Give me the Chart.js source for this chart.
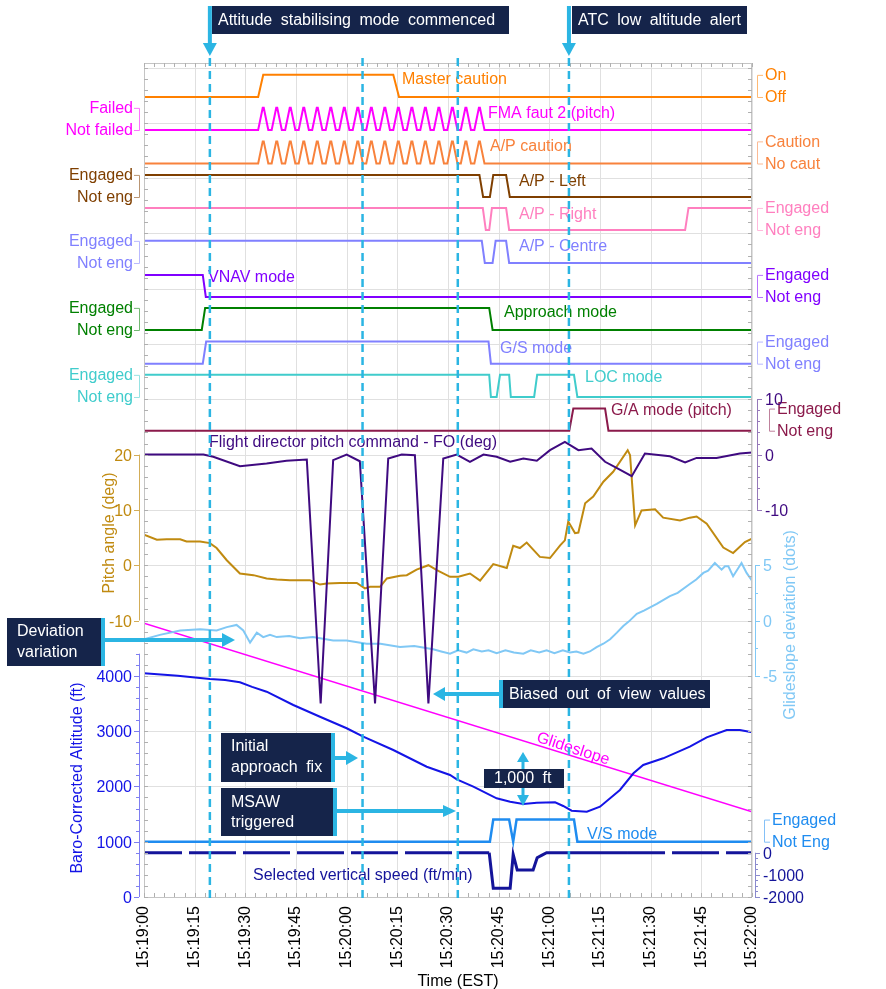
<!DOCTYPE html>
<html><head><meta charset="utf-8">
<script src="https://cdn.jsdelivr.net/npm/chart.js@4/dist/chart.umd.min.js"></script>
<style>html,body{margin:0;padding:0;background:#fff;}canvas{display:block;}</style>
</head><body>
<canvas id="c" width="886" height="989"></canvas>
<script>
// ================= DATA (time in seconds after 15:19:00) =================
const timeTicks = [0,15,30,45,60,75,90,105,120,135,150,165,180];
const timeLabels = ['15:19:00','15:19:15','15:19:30','15:19:45','15:20:00','15:20:15','15:20:30','15:20:45','15:21:00','15:21:15','15:21:30','15:21:45','15:22:00'];

const pitchTicks = [20,10,0,-10];
const altTicks = [0,1000,2000,3000,4000];
const fdTicks = [10,0,-10];
const gsDevTicks = [5,0,-5];
const vsSelTicks = [0,-1000,-2000];

// discrete states (1 = on / engaged / failed, 0 = off)
const masterCaution = [[0,0],[33.8,0],[35.3,1],[73.8,1],[75.5,0],[180,0]];
const fmaPulseT = [0,33.8,35.15,35.45,36.8,37.8,39.15,39.45,40.8,41.8,43.15,43.45,44.8,45.8,47.15,47.45,48.8,49.8,51.15,51.45,52.8,53.8,55.15,55.45,56.8,57.8,59.15,59.45,60.8,61.8,63.15,63.45,64.8,65.8,67.15,67.45,68.8,69.8,71.15,71.45,72.8,73.8,75.15,75.45,76.8,77.8,79.15,79.45,80.8,81.8,83.15,83.45,84.8,85.8,87.15,87.45,88.8,89.8,91.15,91.45,92.8,93.8,95.15,95.45,96.8,97.8,99.15,99.45,100.8,180];
const fmaPulseV = [0,0,1,1,0,0,1,1,0,0,1,1,0,0,1,1,0,0,1,1,0,0,1,1,0,0,1,1,0,0,1,1,0,0,1,1,0,0,1,1,0,0,1,1,0,0,1,1,0,0,1,1,0,0,1,1,0,0,1,1,0,0,1,1,0,0,1,1,0,0];
const apCautionT = fmaPulseT;   // A/P caution pulses coincide with FMA fault pulses
const apCautionV = fmaPulseV;
const apLeft   = [[0,1],[99.3,1],[100.4,0],[102.4,0],[103.4,1],[107.2,1],[108.3,0],[180,0]];
const apRight  = [[0,1],[100.3,1],[101.2,0],[102.2,0],[103.0,1],[107.2,1],[108.1,0],[160.2,0],[161.2,1],[180,1]];
const apCentre = [[0,1],[100.0,1],[100.9,0],[103.2,0],[104.1,1],[107.2,1],[108.1,0],[180,0]];
const vnavMode = [[0,1],[17.4,1],[18.3,0],[180,0]];
const approachMode = [[0,0],[17.1,0],[18.1,1],[102.2,1],[103.2,0],[180,0]];
const gsMode  = [[0,0],[17.4,0],[18.4,1],[102.0,1],[102.7,0],[180,0]];
const locMode = [[0,1],[102.2,1],[102.7,0],[104.4,0],[105.4,1],[108.1,1],[108.6,0],[115.5,0],[116.4,1],[127.3,1],[128.3,0],[180,0]];
const gaMode  = [[0,0],[125.9,0],[127.1,1],[136.5,1],[137.5,0],[180,0]];
const vsMode  = [[0,0],[102.4,0],[103.4,1],[108.1,1],[109.3,0],[110.3,1],[127.3,1],[128.3,0],[180,0]];

// Flight director pitch command (deg)
const fdPitch = [[0,0],[17.6,0],[20.5,-0.4],[28.4,-2.1],[36.3,-1.6],[42.2,-1.1],[48.2,-0.9],[52.3,-45],[56.0,-1.0],[60.0,0],[63.9,-1.2],[68.4,-45],[72.3,-0.7],[76.3,0],[80.2,-0.1],[84.2,-45],[88.6,-0.7],[92.6,0],[96.5,-1.3],[100.5,0],[104.4,-0.4],[108.4,-1.3],[112.3,-0.7],[116.3,-1.1],[120.2,0.8],[124.6,2.3],[128.6,0.8],[132.5,1.1],[136.5,-1.3],[139.9,-2.4],[144.4,-3.9],[148.3,0.2],[155.7,-0.3],[160.2,-1.4],[163.6,-0.6],[169.5,-0.6],[176.4,0.2],[180,0.4]];
// Pitch angle (deg)
const pitchAngle = [[0,5.5],[3.8,4.6],[6.7,4.7],[10.7,4.7],[12.6,4.3],[16.6,4.3],[19.5,4.0],[21.5,3.1],[24.5,0.9],[28.4,-1.5],[32.4,-1.8],[36.3,-2.4],[39.3,-2.6],[43.2,-2.7],[49.1,-2.7],[52.1,-3.5],[54.1,-3.3],[58.0,-3.2],[63.0,-3.2],[65.4,-4.2],[66.9,-3.9],[69.9,-3.9],[71.9,-2.4],[75.8,-1.9],[77.8,-1.8],[80.7,-0.8],[84.2,0.0],[86.7,-0.9],[90.6,-2.1],[93.1,-2.1],[96.5,-1.5],[99.5,-2.8],[103.4,0.2],[107.4,-0.5],[109.3,3.5],[111.3,3.1],[113.3,4.1],[117.2,1.5],[120.2,1.3],[123.2,3.6],[124.6,4.5],[125.6,7.9],[127.6,5.8],[128.6,5.9],[130.6,11.2],[133.0,12.4],[136.0,15.1],[138.9,16.9],[143.2,20.8],[143.9,19.9],[145.4,7.2],[147.3,9.9],[151.3,10.1],[153.7,8.6],[158.7,8.1],[161.6,8.6],[163.6,8.8],[166.6,7.5],[171.5,3.2],[174.4,2.2],[177.9,4.2],[180,4.8]];
// Glideslope deviation (dots)
const gsDeviation = [[0,-1.7],[4.7,-1.3],[10.7,-0.9],[16.6,-0.8],[21.5,-0.9],[24.5,-0.6],[27.4,-0.4],[29.4,-0.9],[31.4,-2.0],[33.4,-1.1],[35.3,-1.5],[37.3,-1.3],[39.3,-1.5],[43,-1.4],[46.2,-1.6],[50,-1.5],[56.0,-1.8],[60,-1.8],[65.9,-2.1],[70,-2.1],[75.8,-2.4],[80,-2.3],[85.6,-2.6],[88,-2.8],[90.6,-3.0],[93,-2.7],[95.5,-2.9],[97.5,-2.6],[100,-2.8],[102,-2.7],[104.4,-2.95],[107,-2.7],[109.5,-2.9],[112.3,-3.0],[114.5,-2.7],[117,-2.9],[119.2,-2.7],[121.5,-2.95],[124,-2.7],[126.1,-2.9],[128,-2.8],[130.1,-3.0],[132,-2.8],[134.0,-2.4],[136,-2.1],[138.0,-1.7],[140,-1.1],[141.9,-0.5],[143.5,-0.1],[145.9,0.6],[148,0.9],[151.8,1.5],[155.7,2.2],[158,2.5],[161.6,3.3],[163.5,3.7],[165.6,4.3],[167,4.5],[169.0,5.2],[171.0,4.6],[172,4.9],[173.0,4.9],[174.4,4.0],[176.9,5.2],[178.4,4.3],[180,3.6]];
// Baro-corrected altitude (ft)
const altitude = [[0,4045],[10,4000],[19.5,3942],[24,3925],[28.4,3882],[32,3800],[36.3,3712],[44.2,3472],[52.1,3260],[60.0,3051],[64.9,2899],[73.8,2658],[83.7,2356],[90.6,2206],[92.6,2128],[97.5,1995],[104.4,1785],[108.4,1724],[112.3,1682],[116.3,1705],[121.7,1712],[124.1,1646],[126.6,1561],[131.1,1543],[135.0,1633],[140.9,1935],[144.9,2237],[147.8,2387],[153.7,2508],[161.6,2718],[166.6,2888],[172.5,3020],[176.4,3020],[180,2978]];
// Glideslope reference (ft)
const glideslope = [[0,4950],[180,1540]];
// Selected vertical speed (ft/min)
const selectedVS = [[0,0],[102.2,0],[103.4,-1600],[108.4,-1600],[109.3,-80],[110.5,-780],[115.2,-780],[116.4,-225],[117.7,-120],[119.2,0],[143,0],[180,0]];

// event marker times (s)
const markerTimes = [19.5, 64.7, 92.9, 125.8];

// ================= LAYOUT / STYLE =================
const AREA = {left:144, top:63, right:752, bottom:897};
const GRID_PX = 55.3;
const GRID_TOP = (AREA.bottom - AREA.top) / GRID_PX;
const FONT = '"Liberation Sans", Arial, Helvetica, sans-serif';
const C = {
  master:'#ff8000', fma:'#ff00ff', apCaution:'#f8823c', apLeft:'#7f3f00', apRight:'#ff7fbf',
  apCentre:'#8080ff', vnav:'#8000ff', approach:'#008000', gs:'#8080ff', loc:'#40cccc',
  ga:'#8b1a4b', fd:'#3f0a80', pitch:'#c08a10', gsDev:'#80c8f5', alt:'#1414e6',
  glideslope:'#ff00ff', vsMode:'#1f8cf0', vsSel:'#14149a', cyan:'#2bb5e3', navy:'#15244a'
};
// lane base positions in grid units (value 0 of each discrete trace); 1 unit = 0.4 grid
const LANE = {master:14.467, fma:13.870, apCaution:13.264, apLeft:12.658, apRight:12.061, apCentre:11.465,
  vnav:10.850, approach:10.253, gs:9.644, loc:9.042, ga:8.432, vsMode:1.0};

function rng(zeroG, perG){ return {min:-zeroG*perG, max:(GRID_TOP-zeroG)*perG}; }
const scales = { x:{type:'linear', min:0, max:180, display:false} };
function addY(id, zeroG, perG){ scales[id] = Object.assign({type:'linear', display:false}, rng(zeroG, perG)); }
addY('alt', 0, 1000);
addY('pitch', 6, 10);
addY('fd', 8, 10);
addY('gsd', 5, 5);
addY('vss', 0.8, 2500);
for (const k in LANE) addY('d_'+k, LANE[k], 2.5);

const pts = arr => arr.map(p => ({x:p[0], y:p[1]}));
const ptsTV = (t,v) => t.map((x,i) => ({x, y:v[i]}));
function ds(label, data, axis, color, w, extra){
  return Object.assign({label, data, yAxisID:axis, borderColor:color, borderWidth:w, pointRadius:0, tension:0, fill:false}, extra||{});
}
const datasets = [
  ds('FD pitch', pts(fdPitch), 'fd', C.fd, 2),
  ds('Pitch', pts(pitchAngle), 'pitch', C.pitch, 2),
  ds('GS dev', pts(gsDeviation), 'gsd', C.gsDev, 2),
  ds('Altitude', pts(altitude), 'alt', C.alt, 2),
  ds('Glideslope', pts(glideslope), 'alt', C.glideslope, 1.6),
  ds('Master caution', pts(masterCaution), 'd_master', C.master, 2),
  ds('FMA', ptsTV(fmaPulseT, fmaPulseV), 'd_fma', C.fma, 2),
  ds('AP caution', ptsTV(apCautionT, apCautionV), 'd_apCaution', C.apCaution, 2),
  ds('AP left', pts(apLeft), 'd_apLeft', C.apLeft, 2),
  ds('AP right', pts(apRight), 'd_apRight', C.apRight, 2),
  ds('AP centre', pts(apCentre), 'd_apCentre', C.apCentre, 2),
  ds('VNAV', pts(vnavMode), 'd_vnav', C.vnav, 2),
  ds('Approach', pts(approachMode), 'd_approach', C.approach, 2),
  ds('GS mode', pts(gsMode), 'd_gs', C.gs, 2),
  ds('LOC', pts(locMode), 'd_loc', C.loc, 2),
  ds('GA', pts(gaMode), 'd_ga', C.ga, 2),
  ds('VS mode', pts(vsMode), 'd_vsMode', C.vsMode, 2.5),
  ds('Selected VS', pts(selectedVS), 'vss', C.vsSel, 3, {
    borderDashOffset: 9,
    segment:{ borderDash: c => (c.p0.parsed.x < 102 || c.p0.parsed.x >= 142.9) ? [47,7] : [] }
  }),
];

// ================= DRAW HELPERS =================
function line(ctx,x1,y1,x2,y2){ ctx.beginPath(); ctx.moveTo(x1,y1); ctx.lineTo(x2,y2); ctx.stroke(); }
function text(ctx,s,x,y,color,align,size,bold){
  ctx.font = (bold?'bold ':'') + (size||16) + 'px ' + FONT;
  ctx.fillStyle = color; ctx.textAlign = align||'left'; ctx.textBaseline = 'middle';
  ctx.fillText(s,x,y);
}
function lighten(hex, f){
  const n = parseInt(hex.slice(1),16); let r=n>>16,g=(n>>8)&255,b=n&255;
  r=Math.round(r+(255-r)*f); g=Math.round(g+(255-g)*f); b=Math.round(b+(255-b)*f);
  return 'rgb('+r+','+g+','+b+')';
}
function bracket(ctx, chart, axis, hi, lo, color, side, xLine, xText){
  const S = chart.scales[axis];
  const y1 = S.getPixelForValue(1), y0 = S.getPixelForValue(0);
  ctx.strokeStyle = lighten(color, 0.45); ctx.lineWidth = 1;
  const d = side==='left' ? -5 : 6;
  ctx.beginPath(); ctx.moveTo(xLine+d, y1+0.5); ctx.lineTo(xLine+0.5, y1+0.5); ctx.lineTo(xLine+0.5, y0+0.5); ctx.lineTo(xLine+d, y0+0.5); ctx.stroke();
  text(ctx, hi, xText, y1+1, color, side==='left'?'right':'left');
  text(ctx, lo, xText, y0+1, color, side==='left'?'right':'left');
}
function numAxis(ctx, chart, axis, ticks, from, to, minorStep, color, lineColor, side, xLine, xText){
  const S = chart.scales[axis];
  ctx.strokeStyle = lineColor; ctx.lineWidth = 1;
  const ya = S.getPixelForValue(from), yb = S.getPixelForValue(to);
  line(ctx, xLine+0.5, ya, xLine+0.5, yb);
  const dir = side==='left' ? -1 : 1;
  if (minorStep) for (let v=Math.min(from,to); v<=Math.max(from,to)+1e-6; v+=minorStep){
    const y = Math.round(S.getPixelForValue(v))+0.5; line(ctx, xLine, y, xLine+dir*3, y);
  }
  for (const v of ticks){
    const y = Math.round(S.getPixelForValue(v))+0.5;
    line(ctx, xLine, y, xLine+dir*5, y);
    text(ctx, String(v), xText, y+1, color, side==='left'?'right':'left');
  }
}
function box(ctx,x,y,w,h){ ctx.fillStyle = C.navy; ctx.fillRect(x,y,w,h); }
function cyanRect(ctx,x,y,w,h){ ctx.fillStyle = C.cyan; ctx.fillRect(x,y,w,h); }
function tri(ctx,a,b,c){ ctx.fillStyle = C.cyan; ctx.beginPath(); ctx.moveTo(a[0],a[1]); ctx.lineTo(b[0],b[1]); ctx.lineTo(c[0],c[1]); ctx.closePath(); ctx.fill(); }
function wtext(ctx,s,x,y){
  ctx.font = '16px ' + FONT; ctx.fillStyle = '#ffffff'; ctx.textAlign='left'; ctx.textBaseline='middle';
  try { ctx.wordSpacing = '4px'; } catch(e){}
  ctx.fillText(s,x,y);
  try { ctx.wordSpacing = '0px'; } catch(e){}
}

const deco = {
  id:'deco',
  beforeDatasetsDraw(chart){
    const ctx = chart.ctx, a = chart.chartArea, X = chart.scales.x, Y = chart.scales.alt;
    ctx.save();
    ctx.strokeStyle = '#e0e0e0'; ctx.lineWidth = 1;
    for (const s of timeTicks){ const x = Math.round(X.getPixelForValue(s))+0.5; line(ctx,x,a.top,x,a.bottom); }
    for (let v=1000; v<=15000; v+=1000){ const y = Math.round(Y.getPixelForValue(v))+0.5; line(ctx,a.left,y,a.right,y); }
    ctx.restore();
  },
  afterDatasetsDraw(chart){
    const ctx = chart.ctx, a = chart.chartArea, X = chart.scales.x, Y = chart.scales.alt;
    ctx.save();
    // frame + minor ticks
    ctx.strokeStyle = '#c4c4c4'; ctx.lineWidth = 1;
    ctx.strokeRect(a.left+0.5, a.top+0.5, a.right-a.left-1, a.bottom-a.top);
    ctx.strokeStyle = '#b0b0b0';
    for (let s=0; s<=180; s+=3){ const x = Math.round(X.getPixelForValue(s))+0.5; line(ctx,x,a.top,x,a.top+4); line(ctx,x,a.bottom,x,a.bottom-4); }
    for (let v=0; v<=15000; v+=200){ const y = Math.round(Y.getPixelForValue(v))+0.5; line(ctx,a.left,y,a.left+4,y); line(ctx,a.right,y,a.right-4,y); }

    // series labels
    const labels = [
      ['Master caution',402,80,C.master],['FMA faut 2 (pitch)',488,114,C.fma],['A/P caution',490,147,C.apCaution],
      ['A/P - Left',519,182,C.apLeft],['A/P - Right',519,215,C.apRight],['A/P - Centre',519,247,C.apCentre],
      ['VNAV mode',208,278,C.vnav],['Approach mode',504,313,C.approach],['G/S mode',500,349,C.gs],
      ['LOC mode',585,378,C.loc],['G/A mode (pitch)',611,411,C.ga],
      ['Flight director pitch command - FO (deg)',209,443,C.fd],
      ['V/S mode',587,835,C.vsMode],['Selected vertical speed (ft/min)',253,876,C.vsSel]
    ];
    for (const l of labels) text(ctx,l[0],l[1],l[2],l[3],'left',16);
    ctx.save(); ctx.translate(573,749); ctx.rotate(18*Math.PI/180); text(ctx,'Glideslope',0,0,C.glideslope,'center',16); ctx.restore();

    // left discrete brackets
    bracket(ctx,chart,'d_fma','Failed','Not failed',C.fma,'left',139,133);
    bracket(ctx,chart,'d_apLeft','Engaged','Not eng',C.apLeft,'left',139,133);
    bracket(ctx,chart,'d_apCentre','Engaged','Not eng',C.apCentre,'left',139,133);
    bracket(ctx,chart,'d_approach','Engaged','Not eng',C.approach,'left',139,133);
    bracket(ctx,chart,'d_loc','Engaged','Not eng',C.loc,'left',139,133);
    // right discrete brackets
    bracket(ctx,chart,'d_master','On','Off',C.master,'right',757,765);
    bracket(ctx,chart,'d_apCaution','Caution','No caut',C.apCaution,'right',757,765);
    bracket(ctx,chart,'d_apRight','Engaged','Not eng',C.apRight,'right',757,765);
    bracket(ctx,chart,'d_vnav','Engaged','Not eng',C.vnav,'right',757,765);
    bracket(ctx,chart,'d_gs','Engaged','Not eng',C.gs,'right',757,765);
    bracket(ctx,chart,'d_ga','Engaged','Not eng',C.ga,'right',769,777);
    bracket(ctx,chart,'d_vsMode','Engaged','Not Eng',C.vsMode,'right',764,772);

    // numeric axes
    numAxis(ctx,chart,'pitch',pitchTicks,-10,20,0,C.pitch,lighten(C.pitch,0.3),'left',139,132);
    numAxis(ctx,chart,'alt',altTicks,0,4400,200,C.alt,lighten(C.alt,0.45),'left',139,132);
    numAxis(ctx,chart,'fd',fdTicks,-10,10,2,C.fd,lighten(C.fd,0.45),'right',757,765);
    numAxis(ctx,chart,'gsd',gsDevTicks,-5,5,2.5,C.gsDev,C.gsDev,'right',755,763);
    numAxis(ctx,chart,'vss',vsSelTicks,-2000,0,250,C.vsSel,lighten(C.vsSel,0.5),'right',755,763);

    // axis titles
    ctx.save(); ctx.translate(110,533); ctx.rotate(-Math.PI/2); text(ctx,'Pitch angle (deg)',0,0,C.pitch,'center',16); ctx.restore();
    ctx.save(); ctx.translate(78,778); ctx.rotate(-Math.PI/2); text(ctx,'Baro-Corrected Altitude (ft)',0,0,C.alt,'center',16); ctx.restore();
    ctx.save(); ctx.translate(791,625); ctx.rotate(-Math.PI/2); text(ctx,'Glideslope deviation (dots)',0,0,C.gsDev,'center',16); ctx.restore();

    // x tick labels and title
    timeTicks.forEach((s,i) => {
      const x = X.getPixelForValue(s);
      ctx.save(); ctx.translate(x,906); ctx.rotate(-Math.PI/2); text(ctx,timeLabels[i],0,0,'#000','right',16); ctx.restore();
    });
    text(ctx,'Time (EST)',458,982,'#000','center',16);

    // dashed event markers
    ctx.strokeStyle = C.cyan; ctx.lineWidth = 2.5; ctx.setLineDash([8,5]);
    for (const t of markerTimes){ const x = X.getPixelForValue(t); line(ctx,x,58,x,899); }
    ctx.setLineDash([]);

    // top callouts
    const x1 = X.getPixelForValue(markerTimes[0]), x4 = X.getPixelForValue(markerTimes[3]);
    box(ctx,212,6,297,28); cyanRect(ctx,x1-2,6,4,38); tri(ctx,[x1-7,43],[x1+7,43],[x1,56]);
    wtext(ctx,'Attitude stabilising mode commenced',218,21);
    box(ctx,572,6,175,28); cyanRect(ctx,x4-2,6,4,38); tri(ctx,[x4-7,43],[x4+7,43],[x4,56]);
    wtext(ctx,'ATC low altitude alert',578,21);

    // Deviation variation
    box(ctx,7,618,94,48); cyanRect(ctx,101,618,4,48); cyanRect(ctx,105,638,118,4); tri(ctx,[222,633],[222,647],[235,640]);
    wtext(ctx,'Deviation',17,632); wtext(ctx,'variation',17,653);
    // Biased out of view values
    box(ctx,500,680,210,28); cyanRect(ctx,499,680,4,28); cyanRect(ctx,444,692,55,4); tri(ctx,[445,687],[445,701],[433,694]);
    wtext(ctx,'Biased out of view values',509,695);
    // Initial approach fix
    box(ctx,221,733,110,49); cyanRect(ctx,331,733,4,49); cyanRect(ctx,335,756,12,4); tri(ctx,[346,751],[346,765],[358,758]);
    wtext(ctx,'Initial',231,747); wtext(ctx,'approach fix',231,768);
    // MSAW triggered
    box(ctx,221,788,112,48); cyanRect(ctx,333,788,4,48); cyanRect(ctx,337,809,107,4); tri(ctx,[443,805],[443,817],[456,811]);
    wtext(ctx,'MSAW',231,803); wtext(ctx,'triggered',231,823);
    // 1,000 ft
    cyanRect(ctx,521.5,758,3,44); tri(ctx,[517,762],[529,762],[523,752]); tri(ctx,[517,795],[529,795],[523,806]);
    box(ctx,484,769,80,19); wtext(ctx,'1,000 ft',494,779);
    ctx.restore();
  }
};

new Chart(document.getElementById('c'), {
  type:'line',
  data:{datasets},
  options:{
    responsive:false, animation:false, events:[],
    layout:{padding:{left:AREA.left, top:AREA.top, right:886-AREA.right, bottom:989-AREA.bottom}},
    plugins:{legend:{display:false}, tooltip:{enabled:false}},
    scales,
    elements:{point:{radius:0}, line:{tension:0}}
  },
  plugins:[deco]
});
</script>
</body></html>
